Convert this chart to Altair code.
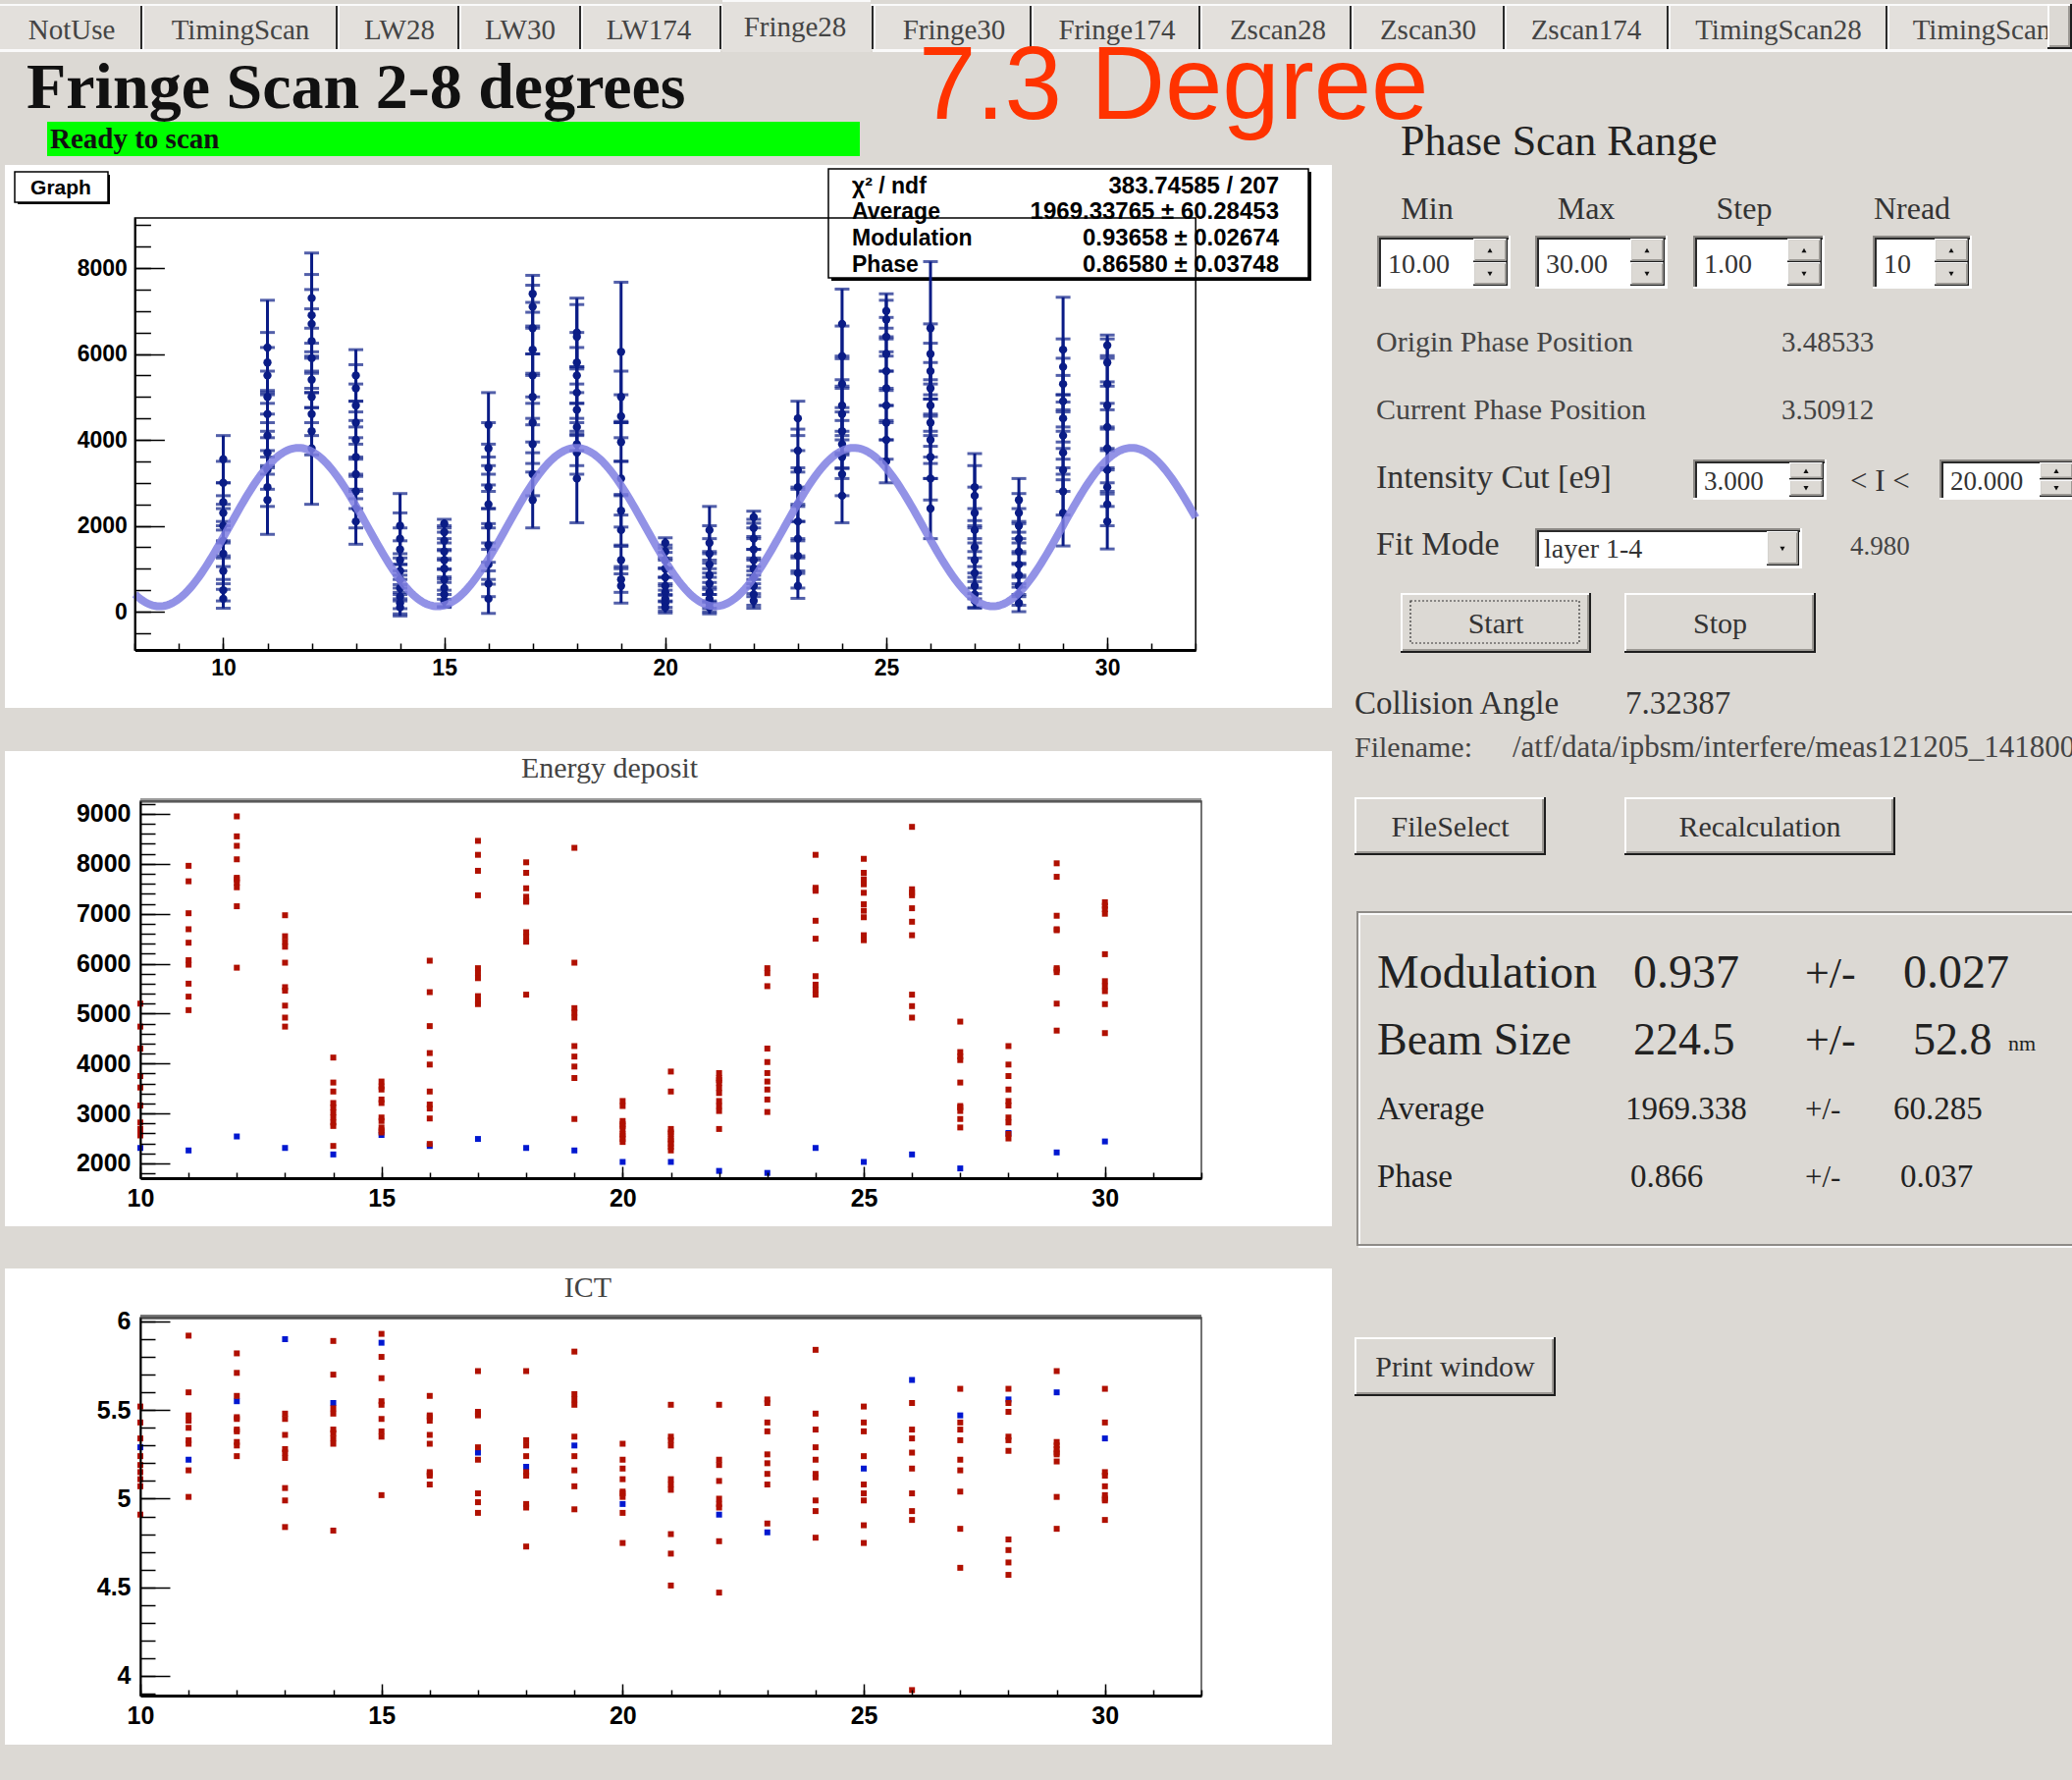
import altair as alt
import pandas as pd

W, H = 2111, 1813
BG = "#dcd9d4"

# ---------------- chart values ----------------
phase_positions = list(range(10, 31))

fringe_signal = [
    [3550, 3000, 2550, 2300, 2000, 1650, 1350, 950, 500, 300],
    [6150, 5800, 5500, 5000, 4600, 4100, 3700, 3300, 2900, 2600],
    [7300, 6900, 6700, 6300, 5900, 5400, 5000, 4600, 4200, 3800],
    [5500, 5200, 4800, 4400, 4000, 3600, 3200, 2800, 2400, 2100],
    [2000, 1700, 1450, 1200, 950, 750, 550, 350, 200, 100],
    [2050, 1850, 1650, 1400, 1200, 1000, 750, 550, 400, 250],
    [4350, 3800, 3350, 2900, 2500, 2000, 1550, 1100, 650, 300],
    [7400, 7100, 6600, 6100, 5500, 5000, 4400, 3900, 3200, 2600],
    [6500, 6400, 5800, 5500, 5100, 4700, 4300, 3900, 3700, 3100],
    [6050, 5000, 4550, 3950, 3100, 2350, 1900, 1200, 750, 600],
    [1600, 1400, 1200, 1000, 800, 600, 450, 300, 200, 100],
    [1900, 1600, 1350, 1100, 850, 650, 450, 300, 200, 100],
    [2200, 1950, 1700, 1450, 1200, 1000, 800, 600, 400, 250],
    [4500, 3750, 3300, 2900, 2500, 2100, 1700, 1300, 900, 600],
    [6700, 5950, 5300, 4800, 4600, 4200, 3900, 3600, 3200, 2700],
    [7000, 6800, 6400, 6000, 5600, 5200, 4800, 4400, 4000, 3500],
    [6600, 6000, 5600, 5200, 4800, 4400, 4000, 3600, 3100, 2400],
    [2900, 2700, 2300, 1900, 1500, 1200, 900, 600, 400, 250],
    [2600, 2300, 2000, 1700, 1400, 1100, 850, 600, 400, 200],
    [6100, 5700, 5300, 4900, 4500, 4100, 3700, 3300, 2800, 2300],
    [6200, 5800, 5300, 4800, 4300, 3800, 3300, 2900, 2500, 2100],
]
fringe_error = [
    [550, 500, 450, 400, 400, 350, 300, 300, 250, 220],
    [1100, 700, 650, 600, 550, 500, 500, 450, 450, 800],
    [1050, 950, 800, 750, 700, 650, 600, 500, 550, 1300],
    [600, 550, 500, 500, 450, 450, 400, 400, 450, 530],
    [750, 600, 500, 450, 400, 350, 300, 280, 250, 200],
    [100, 150, 200, 200, 220, 240, 250, 260, 280, 150],
    [750, 600, 550, 500, 450, 400, 400, 350, 300, 340],
    [430, 500, 600, 550, 500, 500, 450, 450, 500, 650],
    [800, 750, 700, 650, 600, 600, 550, 500, 500, 1030],
    [1620, 600, 500, 450, 400, 380, 350, 320, 300, 400],
    [120, 150, 180, 200, 200, 200, 200, 200, 180, 130],
    [550, 400, 350, 300, 280, 250, 230, 220, 200, 150],
    [140, 200, 250, 250, 250, 250, 250, 250, 250, 170],
    [400, 500, 450, 450, 400, 400, 400, 350, 350, 290],
    [810, 700, 650, 600, 600, 550, 550, 500, 500, 630],
    [400, 450, 450, 400, 450, 400, 400, 400, 450, 500],
    [1550, 700, 650, 600, 600, 550, 550, 500, 500, 700],
    [780, 700, 600, 500, 450, 400, 350, 300, 300, 170],
    [500, 450, 400, 350, 300, 300, 280, 250, 250, 200],
    [1220, 650, 600, 600, 550, 550, 500, 500, 550, 770],
    [240, 550, 600, 550, 550, 500, 500, 450, 500, 640],
]
# fit parameters (stats box)
fit_chi2, fit_ndf = "383.74585", "207"
fit_average, fit_average_err = 1969.33765, 60.28453
fit_modulation, fit_modulation_err = 0.93658, 0.02674
fit_phase, fit_phase_err = 0.86580, 0.03748

energy_red = [
    [5200, 4740, 4300, 3750, 3520, 3160, 2820, 2690, 2620, 2560],
    [7960, 7650, 7010, 6690, 6420, 6070, 5980, 5600, 5340, 5070],
    [8950, 8550, 8360, 8090, 7720, 7690, 7620, 7530, 7150, 5920],
    [6970, 6550, 6440, 6340, 6020, 5530, 5460, 5160, 4920, 4740],
    [4120, 3620, 3440, 3210, 3120, 3020, 2920, 2820, 2750, 2350],
    [3640, 3540, 3480, 3280, 3210, 2920, 2850, 2720, 2660, 2620],
    [6060, 5430, 4750, 4210, 3980, 3440, 3180, 3100, 2900, 2390],
    [8460, 8180, 7860, 7370, 5910, 5810, 5710, 5350, 5250, 5190],
    [8030, 7820, 7510, 7340, 7260, 7240, 6630, 6540, 6440, 5380],
    [8320, 6020, 5110, 5020, 4920, 4350, 4140, 3940, 3710, 2890],
    [3250, 3150, 2850, 2790, 2750, 2690, 2590, 2560, 2490, 2430],
    [3840, 3440, 2690, 2620, 2590, 2490, 2460, 2390, 2330, 2260],
    [3810, 3710, 3670, 3610, 3510, 3410, 3250, 3150, 3050, 2690],
    [5910, 5810, 5550, 4300, 4030, 3810, 3640, 3480, 3280, 3030],
    [8180, 7520, 7490, 7460, 6860, 6500, 5750, 5580, 5480, 5380],
    [8100, 7820, 7690, 7590, 7420, 7190, 7060, 6930, 6570, 6470],
    [8740, 7490, 7420, 7370, 7110, 6840, 6570, 5380, 5150, 4920],
    [4840, 4230, 4140, 4070, 3620, 3150, 3120, 3050, 2890, 2720],
    [4350, 3980, 3750, 3480, 3250, 3160, 2920, 2820, 2590, 2500],
    [8010, 7740, 6960, 6690, 6670, 5910, 5880, 5830, 5200, 4660],
    [7230, 7160, 7090, 7000, 6190, 5650, 5550, 5450, 5190, 4610],
]
energy_blue = [2310, 2260, 2540, 2310, 2180, 2570, 2350, 2490, 2310, 2260, 2030,
               2030, 1850, 1810, 2310, 2030, 2180, 1900, 2610, 2220, 2440]

ict_red = [
    [5.52, 5.43, 5.34, 5.24, 5.19, 5.15, 5.11, 5.07, 4.91],
    [5.92, 5.60, 5.47, 5.44, 5.40, 5.33, 5.31, 5.16, 5.01],
    [5.82, 5.71, 5.58, 5.46, 5.45, 5.39, 5.38, 5.32, 5.30, 5.24],
    [5.48, 5.45, 5.36, 5.28, 5.26, 5.23, 5.06, 4.99, 4.84],
    [5.89, 5.70, 5.51, 5.48, 5.39, 5.37, 5.34, 5.31, 4.82],
    [5.93, 5.80, 5.68, 5.55, 5.53, 5.45, 5.38, 5.35, 5.02],
    [5.58, 5.47, 5.46, 5.44, 5.36, 5.31, 5.15, 5.14, 5.13, 5.08],
    [5.72, 5.49, 5.48, 5.47, 5.29, 5.22, 5.03, 4.98, 4.92],
    [5.72, 5.33, 5.30, 5.24, 5.15, 5.13, 4.97, 4.95, 4.73],
    [5.83, 5.59, 5.56, 5.53, 5.35, 5.24, 5.16, 5.07, 4.94],
    [5.31, 5.22, 5.17, 5.11, 5.04, 5.03, 5.01, 4.92, 4.75],
    [5.53, 5.35, 5.33, 5.30, 5.11, 5.08, 5.05, 4.80, 4.69, 4.51],
    [5.53, 5.22, 5.19, 5.10, 5.00, 4.97, 4.95, 4.76, 4.47],
    [5.56, 5.54, 5.43, 5.38, 5.25, 5.20, 5.14, 5.08, 4.86],
    [5.84, 5.48, 5.39, 5.29, 5.22, 5.14, 5.12, 4.99, 4.93, 4.78],
    [5.52, 5.43, 5.38, 5.24, 5.08, 5.03, 4.99, 4.85, 4.75],
    [5.54, 5.39, 5.34, 5.26, 5.17, 5.03, 4.93, 4.88, 3.92],
    [5.62, 5.43, 5.39, 5.33, 5.22, 5.16, 5.04, 4.83, 4.61],
    [5.62, 5.54, 5.49, 5.35, 5.33, 5.27, 4.77, 4.71, 4.64, 4.57],
    [5.72, 5.32, 5.30, 5.28, 5.26, 5.25, 5.21, 5.01, 4.83],
    [5.62, 5.43, 5.15, 5.13, 5.07, 5.02, 5.00, 4.99, 4.88],
]
ict_blue = [5.29, 5.22, 5.55, 5.90, 5.54, 5.88, None, 5.26, 5.18, 5.30, 4.97,
            None, 4.91, 4.81, None, 5.17, 5.67, 5.47, 5.56, 5.60, 5.34]

# ---------------- GUI texts ----------------
tab_names = ["NotUse", "TimingScan", "LW28", "LW30", "LW174", "Fringe28", "Fringe30",
             "Fringe174", "Zscan28", "Zscan30", "Zscan174", "TimingScan28", "TimingScan"]
window_title = "Fringe Scan 2-8 degrees"
status_text = "Ready to scan"
angle_banner = "7.3 Degree"
range_header = "Phase Scan Range"
spin_labels = ["Min", "Max", "Step", "Nread"]
spin_values = ["10.00", "30.00", "1.00", "10"]
origin_pos = ("Origin Phase Position", "3.48533")
current_pos = ("Current Phase Position", "3.50912")
intensity_cut = ("Intensity Cut [e9]", "3.000", "< I <", "20.000")
fit_mode = ("Fit Mode", "layer 1-4", "4.980")
collision = ("Collision Angle", "7.32387")
filename = ("Filename:", "/atf/data/ipbsm/interfere/meas121205_141800")
button_names = ["Start", "Stop", "FileSelect", "Recalculation", "Print window"]
result_rows = [
    ("Modulation", "0.937", "+/-", "0.027", ""),
    ("Beam Size", "224.5", "+/-", "52.8", "nm"),
    ("Average", "1969.338", "+/-", "60.285", ""),
    ("Phase", "0.866", "+/-", "0.037", ""),
]

# ---------------- GUI geometry ----------------
gui_rects, over_rects = [], []


def box(lst, x, y, x2, y2, fill, stroke="transparent", sw=0):
    lst.append(dict(x=x, y=y, x2=x2, y2=y2, fill=fill, stroke=stroke, sw=sw))


def raised(lst, x, y, x2, y2, w=2, face=BG):
    box(lst, x, y, x2, y2, "#1e1e1e")
    box(lst, x, y, x2 - w, y2 - w, "#fdfdfd")
    box(lst, x + w, y + w, x2 - w, y2 - w, "#9c9994")
    box(lst, x + w, y + w, x2 - 2 * w, y2 - 2 * w, face)


def sunken(lst, x, y, x2, y2, w=2, face="#ffffff"):
    box(lst, x, y, x2, y2, "#fdfdfd")
    box(lst, x, y, x2 - w, y2 - w, "#8c8985")
    box(lst, x + w, y + w, x2 - w, y2 - w, "#2a2a2a")
    box(lst, x + 2 * w, y + 2 * w, x2 - w, y2 - w, face)


tris = []


def spinbox(x, y, x2, y2):
    sunken(gui_rects, x, y, x2, y2)
    ym = (y + y2) / 2
    raised(gui_rects, x2 - 38, y + 3, x2 - 3, ym, w=1.5)
    raised(gui_rects, x2 - 38, ym, x2 - 3, y2 - 3, w=1.5)
    tris.append((x2 - 21, (y + 3 + ym) / 2, "triangle-up"))
    tris.append((x2 - 21, (ym + y2 - 3) / 2, "triangle-down"))


# tab strip
tab_centers = [73, 245, 407, 530, 661, 810, 972, 1138, 1302, 1455, 1616, 1812, 2019]
tab_seps = [144, 343, 467, 591, 734, 889, 1050, 1222, 1376, 1532, 1699, 1922]
box(gui_rects, 0, 4, W, 52, "#e3e0dc")
box(gui_rects, 0, 4, W, 6, "#fafafa")
for sx in tab_seps:
    box(gui_rects, sx - 1, 6, sx + 1, 50, "#2a2a2a")
    box(gui_rects, sx + 1, 6, sx + 3, 50, "#fafafa")
box(gui_rects, 0, 50, 734, 53, "#fafafa")
box(gui_rects, 889, 50, W, 53, "#fafafa")
box(gui_rects, 736, 0, 887, 53, "#e3e0dc")
box(gui_rects, 736, 0, 887, 2, "#fafafa")

# canvases
box(gui_rects, 5, 168, 1357, 721, "#ffffff")
box(gui_rects, 5, 765, 1357, 1249, "#ffffff")
box(gui_rects, 5, 1292, 1357, 1777, "#ffffff")
box(gui_rects, 48, 124, 876, 159, "#00ff00")
# Graph label & stats box (with shadow)
box(gui_rects, 18, 178, 112, 208, "#000000")
box(gui_rects, 15, 175, 110, 206, "#ffffff", "#000000", 1.5)
box(gui_rects, 847, 175, 1336, 286, "#000000")
box(gui_rects, 844, 172, 1333, 283, "#ffffff", "#000000", 1.5)

# right panel widgets
spin_boxes = [(1403, 240, 1539, 294), (1564, 240, 1699, 294), (1725, 240, 1859, 294),
              (1908, 240, 2009, 294), (1725, 468, 1861, 509), (1976, 468, 2116, 509)]
for b in spin_boxes:
    spinbox(*b)
sunken(gui_rects, 1564, 538, 1836, 579)
raised(gui_rects, 1800, 541, 1833, 576, w=1.5)
tris.append((1816, 559, "triangle-down"))
buttons = [(1427, 604, 1621, 665), (1655, 604, 1850, 665), (1380, 812, 1575, 871),
           (1655, 812, 1931, 871), (1380, 1362, 1585, 1422)]
for b in buttons:
    raised(gui_rects, *b)
box(gui_rects, 1385, 931, 2118, 1270, "transparent", "#fafafa", 2)
box(gui_rects, 1383, 929, 2116, 1268, "transparent", "#8e8b87", 2)

# overlay rects (frames drawn above the stats box)
raised(over_rects, 2086, 4, 2111, 50)
box(over_rects, 137.4, 222, 1218.2, 662, "transparent", "#000000", 1.5)
box(over_rects, 143, 813, 1224, 818, "#9a9a9a")
box(over_rects, 143, 816, 1224, 1200, "transparent", "#444444", 1.5)
box(over_rects, 143, 1339, 1224, 1344, "#777777")
box(over_rects, 143, 1342, 1224, 1727, "transparent", "#444444", 1.5)

# ---------------- text groups ----------------
serif_center = []
for i, (name, cx) in enumerate(zip(tab_names, tab_centers)):
    serif_center.append((cx, 37 if i == 5 else 40, name, 29, "#444444"))
for lab, cx in zip(spin_labels, [1454, 1616, 1777, 1948]):
    serif_center.append((cx, 223, lab, 32, "#333333"))
serif_center.append((621, 792, "Energy deposit", 30, "#444444"))
serif_center.append((599, 1321, "ICT", 30, "#444444"))
for name, (bx, by, bx2, by2) in zip(button_names, buttons):
    serif_center.append(((bx + bx2) / 2, (by + by2) / 2 + 10, name, 30, "#333333"))

serif_left = [
    (1427, 158, range_header, 44, "#222222"),
    (1402, 358, origin_pos[0], 30, "#444444"), (1815, 358, origin_pos[1], 29, "#444444"),
    (1402, 427, current_pos[0], 30, "#444444"), (1815, 427, current_pos[1], 29, "#444444"),
    (1402, 497, intensity_cut[0], 34, "#333333"),
    (1736, 499, intensity_cut[1], 27, "#333333"),
    (1885, 500, intensity_cut[2], 31, "#333333"),
    (1987, 499, intensity_cut[3], 27, "#333333"),
    (1402, 565, fit_mode[0], 34, "#333333"),
    (1573, 568, fit_mode[1], 28, "#333333"),
    (1885, 565, fit_mode[2], 27, "#444444"),
    (1380, 727, collision[0], 33, "#333333"), (1656, 727, collision[1], 33, "#333333"),
    (1380, 771, filename[0], 30, "#444444"), (1541, 771, filename[1], 31, "#444444"),
]
for val, (bx, by, bx2, by2) in zip(spin_values, spin_boxes[:4]):
    serif_left.append((bx + 11, 278, val, 28, "#333333"))
res_y = [1006, 1074, 1140, 1209]
res_fs = [48, 46, 33, 33]
res_x = [(1664, 1939), (1664, 1949), (1656, 1929), (1661, 1936)]
for (lab, v, pm, e, unit), yy, fs, (vx, ex) in zip(result_rows, res_y, res_fs, res_x):
    serif_left.append((1403, yy, lab, fs, "#222222"))
    serif_left.append((vx, yy, v, fs, "#222222"))
    serif_left.append((1839, yy, pm, 44 if fs > 40 else 31, "#222222"))
    serif_left.append((ex, yy, e, fs, "#222222"))
    if unit:
        serif_left.append((2046, yy - 4, unit, 22, "#222222"))

serif_bold_left = [(27, 110, window_title, 66, "#111111"),
                   (51, 151, status_text, 29, "#111111")]
sans_left = [(936, 121, angle_banner, 105, "#ff3300")]
sans_bold_center = [(62, 198, "Graph", 21, "#000000")]
stats_labels = ["χ² / ndf", "Average", "Modulation", "Phase"]
stats_values = [f"{fit_chi2} / {fit_ndf}",
                f"{fit_average:.5f} ± {fit_average_err:.5f}",
                f"{fit_modulation:.5f} ± {fit_modulation_err:.5f}",
                f"{fit_phase:.5f} ± {fit_phase_err:.5f}"]
stats_y = [197, 223, 250, 277]
sans_bold_left = [(868, yy, s, 23, "#000000") for s, yy in zip(stats_labels, stats_y)]
sans_bold_right = [(1303, yy, s, 24, "#000000") for s, yy in zip(stats_values, stats_y)]


def rect_layer(rows):
    df = pd.DataFrame(rows)
    return alt.Chart(df).mark_rect().encode(
        x=alt.X("x:Q", scale=None, axis=None), x2="x2:Q",
        y=alt.Y("y:Q", scale=None, axis=None), y2="y2:Q",
        fill=alt.Fill("fill:N", scale=None, legend=None),
        stroke=alt.Stroke("stroke:N", scale=None, legend=None),
        strokeWidth=alt.StrokeWidth("sw:Q", scale=None, legend=None),
    )


def text_layer(rows, font, weight="normal", align="left"):
    df = pd.DataFrame(rows, columns=["tx", "ty", "label", "fs", "col"])
    return alt.Chart(df).mark_text(font=font, fontWeight=weight, align=align,
                                   baseline="alphabetic").encode(
        x=alt.X("tx:Q", scale=None, axis=None),
        y=alt.Y("ty:Q", scale=None, axis=None),
        text=alt.Text("label:N"),
        size=alt.Size("fs:Q", scale=None, legend=None),
        color=alt.Color("col:N", scale=None, legend=None),
    )


tri_layer = alt.Chart(pd.DataFrame(tris, columns=["px", "py", "shp"])).mark_point(
    filled=True, color="#111111", size=26, opacity=1).encode(
    x=alt.X("px:Q", scale=None, axis=None), y=alt.Y("py:Q", scale=None, axis=None),
    shape=alt.Shape("shp:N", scale=None, legend=None))

focus_layer = alt.Chart(pd.DataFrame({"k": [0]})).mark_rect(
    filled=False, stroke="#333333", strokeDash=[2, 2], strokeWidth=1.2).encode(
    x=alt.value(1437), x2=alt.value(1609), y=alt.value(612), y2=alt.value(655))

# ---------------- axes helpers ----------------
LF = "Liberation Sans"


def ax_xlab(vals, yb, fs, pad):
    return alt.Axis(orient="bottom", offset=yb - H, values=vals, format="d", ticks=False,
                    domain=True, domainColor="#000", domainWidth=3,
                    labelFont=LF, labelFontWeight="bold", labelFontSize=fs, labelColor="#000",
                    labelPadding=pad, labelFlush=False, labelOverlap=False, labelBound=False,
                    grid=False, title=None, zindex=1)


def ax_ylab(vals, xl, fs, pad, fmt):
    return alt.Axis(orient="left", offset=-xl, values=vals, format=fmt, ticks=False,
                    domain=True, domainColor="#000", domainWidth=2,
                    labelFont=LF, labelFontWeight="bold", labelFontSize=fs, labelColor="#000",
                    labelPadding=pad, labelFlush=False, labelOverlap=False, labelBound=False,
                    grid=False, title=None, zindex=1)


def ax_xtick(vals, yb, size):
    return alt.Axis(orient="top", offset=-yb, values=vals, ticks=True, tickSize=size,
                    tickWidth=1.5, tickColor="#000", labels=False, domain=False, grid=False,
                    title=None, zindex=1)


def ax_ytick(vals, xl, size):
    return alt.Axis(orient="right", offset=xl - W, values=vals, ticks=True, tickSize=size,
                    tickWidth=1.5, tickColor="#000", labels=False, domain=False, grid=False,
                    title=None, zindex=1)


def sc(dom, rng):
    return alt.Scale(domain=dom, range=rng, nice=False, zero=False)


# ---------------- top: fringe graph ----------------
TX = [[8, 32], [137.4, 1218.2]]
TY = [[-891, 9166], [662, 222]]
NAVY = "#0a1c86"
top_df = pd.DataFrame(
    [(x, s, s - e, s + e) for x, ss, ee in zip(phase_positions, fringe_signal, fringe_error)
     for s, e in zip(ss, ee)], columns=["px", "sig", "lo", "hi"])

top_rules = alt.Chart(top_df).mark_rule(color=NAVY, strokeWidth=3).encode(
    x=alt.X("px:Q", scale=sc(*TX), axis=ax_xtick([10, 15, 20, 25, 30], 662, 13)),
    y=alt.Y("lo:Q", scale=sc(*TY), axis=ax_ytick(list(range(0, 9000, 2000)), 137.4, 30)),
    y2="hi:Q")
top_caps = alt.Chart(top_df).transform_fold(["lo", "hi"], as_=["end", "val"]).mark_tick(
    orient="horizontal", size=15, thickness=3, color=NAVY).encode(
    x=alt.X("px:Q", scale=sc(*TX), axis=ax_xtick(list(range(8, 33)), 662, 7)),
    y=alt.Y("val:Q", scale=sc(*TY), axis=ax_ytick(list(range(-500, 9001, 500)), 137.4, 16)))
top_pts = alt.Chart(top_df).mark_point(filled=True, shape="circle", size=70, color=NAVY,
                                       opacity=1).encode(
    x=alt.X("px:Q", scale=sc(*TX), axis=ax_xlab([10, 15, 20, 25, 30], 662, 23, 7)),
    y=alt.Y("sig:Q", scale=sc(*TY), axis=ax_ylab(list(range(0, 9000, 2000)), 137.4, 23, 8, "d")))
top_fit = alt.Chart(alt.sequence(8, 32.001, 0.05, as_="px")).transform_calculate(
    fit=f"{fit_average}*(1+{fit_modulation}*cos(datum.px+{fit_phase}))").mark_line(
    color="#7f7fe2", strokeWidth=8, opacity=0.85).encode(
    x=alt.X("px:Q", scale=sc(*TX), axis=None),
    y=alt.Y("fit:Q", scale=sc(*TY), axis=None))

# ---------------- energy deposit & ICT ----------------
PX = [[10, 32], [143, 1224]]
EY = [[1705, 9255], [1200, 816]]
IY = [[3.889, 6.022], [1727, 1342]]
RED, BLUE = "#b01000", "#0018d0"


def long_df(lists):
    return pd.DataFrame([(x, v) for x, vals in zip(phase_positions, lists) for v in vals],
                        columns=["px", "val"])


def blue_df(vals):
    return pd.DataFrame([(x, v) for x, v in zip(phase_positions, vals) if v is not None],
                        columns=["px", "val"])


def scatter_panel(red_lists, blue_vals, ysc, yb, ymaj, ymin, fmt):
    rdf, bdf = long_df(red_lists), blue_df(blue_vals)
    xmaj = [10, 15, 20, 25, 30]
    blue = alt.Chart(bdf).mark_square(size=36, color=BLUE, opacity=1).encode(
        x=alt.X("px:Q", scale=sc(*PX), axis=ax_xlab(xmaj, yb, 25, 8)),
        y=alt.Y("val:Q", scale=sc(*ysc), axis=ax_ylab(ymaj, 143, 25, 10, fmt)))
    red = alt.Chart(rdf).mark_square(size=36, color=RED, opacity=1).encode(
        x=alt.X("px:Q", scale=sc(*PX), axis=ax_xtick(xmaj, yb, 12)),
        y=alt.Y("val:Q", scale=sc(*ysc), axis=ax_ytick(ymaj, 143, 30)))
    ghost = alt.Chart(rdf).mark_point(opacity=0).encode(
        x=alt.X("px:Q", scale=sc(*PX), axis=ax_xtick(list(range(10, 33)), yb, 6)),
        y=alt.Y("val:Q", scale=sc(*ysc), axis=ax_ytick(ymin, 143, 15)))
    return [blue, red, ghost]


energy_layers = scatter_panel(energy_red, energy_blue, EY, 1200,
                              list(range(2000, 9001, 1000)), list(range(1800, 9201, 200)), "d")
ict_layers = scatter_panel(ict_red, ict_blue, IY, 1727,
                           [4, 4.5, 5, 5.5, 6], [round(3.9 + 0.1 * i, 1) for i in range(22)], "~g")

layers = [
    rect_layer(gui_rects),
    tri_layer,
    focus_layer,
    text_layer(serif_center, "Liberation Serif", align="center"),
    text_layer(serif_left, "Liberation Serif"),
    text_layer(serif_bold_left, "Liberation Serif", weight="bold"),
    text_layer(sans_left, "Liberation Sans"),
    text_layer(sans_bold_center, LF, weight="bold", align="center"),
    text_layer(sans_bold_left, LF, weight="bold"),
    text_layer(sans_bold_right, LF, weight="bold", align="right"),
    rect_layer(over_rects),
    top_rules, top_caps, top_pts, top_fit,
] + energy_layers + ict_layers

chart = alt.layer(*layers).resolve_scale(
    x="independent", y="independent", color="independent", size="independent",
    fill="independent", stroke="independent", strokeWidth="independent", shape="independent"
).properties(
    width=W, height=H, background=BG, padding=0,
    autosize=alt.AutoSizeParams(type="none"),
).configure_view(stroke=None)

chart.save("out.html", embed_options={"renderer": "svg", "actions": False})
